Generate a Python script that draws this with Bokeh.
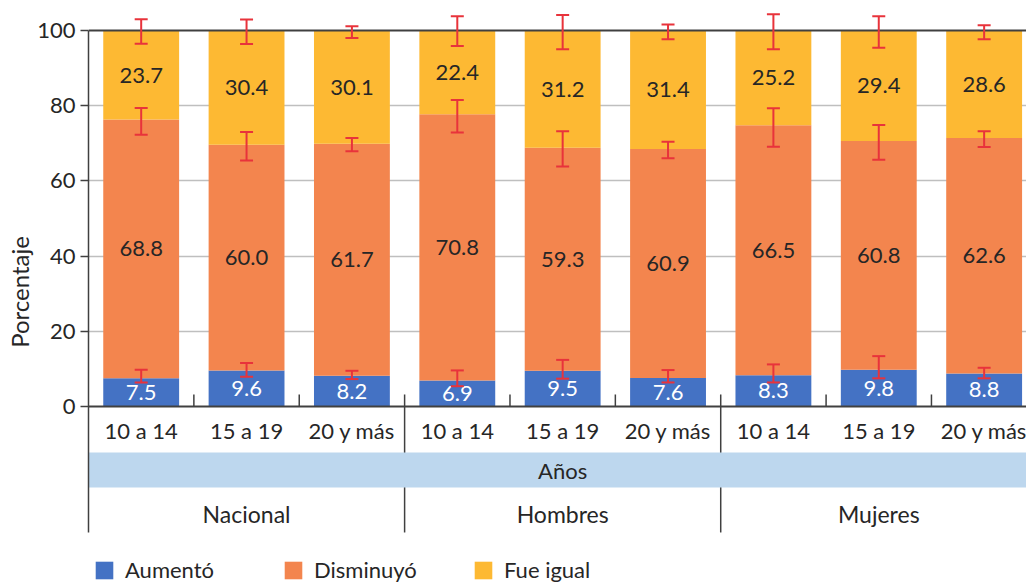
from bokeh.plotting import figure
from bokeh.models import (Range1d, FixedTicker, ColumnDataSource, Whisker, TeeHead,
                          Span, Legend, LegendItem)
from bokeh.core.properties import value
from bokeh.embed import file_html
from bokeh.resources import INLINE

# ---------------- data ----------------
ages = ["10 a 14", "15 a 19", "20 y más", "10 a 14", "15 a 19", "20 y más",
        "10 a 14", "15 a 19", "20 y más"]
groups = ["Nacional", "Hombres", "Mujeres"]
band_label = "Años"
series_names = ["Aumentó", "Disminuyó", "Fue igual"]

aumento = [7.5, 9.6, 8.2, 6.9, 9.5, 7.6, 8.3, 9.8, 8.8]
disminuyo = [68.8, 60.0, 61.7, 70.8, 59.3, 60.9, 66.5, 60.8, 62.6]
igual = [23.7, 30.4, 30.1, 22.4, 31.2, 31.4, 25.2, 29.4, 28.6]

# error bars (lower / upper, on the stacked scale)
aum_lo = [6.4, 7.9, 7.3, 5.4, 7.4, 6.4, 6.4, 7.5, 7.5]
aum_hi = [9.8, 11.6, 9.5, 9.6, 12.4, 9.7, 11.2, 13.4, 10.3]
dis_lo = [72.3, 65.4, 67.9, 72.9, 63.8, 66.0, 69.1, 65.6, 69.0]
dis_hi = [79.4, 73.0, 71.4, 81.5, 73.2, 70.4, 79.3, 74.9, 73.2]
ig_lo = [96.5, 96.4, 98.0, 95.9, 95.0, 97.7, 95.0, 95.4, 97.7]
ig_hi = [103.0, 102.9, 101.1, 103.8, 104.1, 101.6, 104.3, 103.8, 101.4]

# ---------------- style ----------------
FONT = "Lato"
TXT = "#262626"
AXC = "#404040"
COLORS = ["#4472C4", "#F3854E", "#FDB933"]
RED = "#E8333B"
BAND = "#BDD7EE"

n = len(ages)
gsize = n // len(groups)
xs = [i + 0.5 for i in range(n)]

p = figure(width=1026, height=583, output_backend="svg", toolbar_location=None,
           x_range=Range1d(0, 8.902), y_range=Range1d(-47.07, 107.98),
           x_axis_location=None, min_border_left=88, min_border_right=0,
           min_border_top=0, min_border_bottom=0)
p.outline_line_color = None
p.background_fill_color = "white"
p.border_fill_color = "white"
for g in p.xgrid:
    g.visible = False

# y axis
yax = p.yaxis[0]
yax.ticker = FixedTicker(ticks=[0, 20, 40, 60, 80, 100])
yax.bounds = (-33.5, 100)
yax.axis_line_color = AXC
yax.axis_line_width = 1.5
yax.major_tick_line_color = AXC
yax.major_tick_line_width = 1.5
yax.major_tick_out = 8
yax.major_tick_in = 0
yax.minor_tick_line_color = None
yax.major_label_text_font = FONT
yax.major_label_text_font_size = "22px"
yax.major_label_text_color = TXT
yax.major_label_standoff = 5
yax.axis_label = "Porcentaje"
yax.axis_label_text_font = FONT
yax.axis_label_text_font_size = "24px"
yax.axis_label_text_font_style = "normal"
yax.axis_label_text_color = TXT
yax.axis_label_standoff = 0

yg = p.ygrid[0]
yg.ticker = FixedTicker(ticks=[20, 40, 60, 80])
yg.grid_line_color = "#BFBFBF"
yg.grid_line_width = 1.5

# bars
src = ColumnDataSource(dict(x=xs, aum=aumento, dis=disminuyo, ig=igual))
rs = p.vbar_stack(["aum", "dis", "ig"], x="x", width=0.72, color=COLORS,
                  line_color=None, source=src)

# reference lines at 0 and 100
p.add_layout(Span(location=0, dimension="width", line_color=AXC, line_width=2))
p.add_layout(Span(location=100, dimension="width", line_color=AXC, line_width=2))

# small ticks between categories and group separators
inner = [i for i in range(1, n) if i % gsize != 0]
seps = [i for i in range(1, n) if i % gsize == 0]
p.segment(x0=inner, x1=inner, y0=[0] * len(inner), y1=[3.2] * len(inner),
          line_color=AXC, line_width=1.5)
p.segment(x0=seps, x1=seps, y0=[3.2] * len(seps), y1=[-33.5] * len(seps),
          line_color=AXC, line_width=1.5)

# band
p.quad(left=[0], right=[n], bottom=[-21.54], top=[-12.23], color=BAND, line_color=None)
p.text(x=[n / 2], y=[-17.0], text=[band_label], text_font=value(FONT),
       text_font_size="22px", text_color=TXT, text_align="center",
       text_baseline="middle")

# category labels
p.text(x=xs, y=[-6.3] * n, text=ages, text_font=value(FONT), text_font_size="22px",
       text_color=TXT, text_align="center", text_baseline="middle")
# group labels
p.text(x=[g * gsize + gsize / 2 for g in range(len(groups))], y=[-28.5] * len(groups),
       text=groups, text_font=value(FONT), text_font_size="23px", text_color=TXT,
       text_align="center", text_baseline="middle")

# error bars
esrc = ColumnDataSource(dict(x=xs * 3, lo=aum_lo + dis_lo + ig_lo,
                             hi=aum_hi + dis_hi + ig_hi))
wh = Whisker(base="x", lower="lo", upper="hi", source=esrc, dimension="height",
             line_color=RED, line_width=2, level="overlay",
             upper_head=TeeHead(size=13, line_color=RED, line_width=2),
             lower_head=TeeHead(size=13, line_color=RED, line_width=2))
p.add_layout(wh)

# data labels
mid_a = [a / 2 for a in aumento]
mid_d = [a + d / 2 for a, d in zip(aumento, disminuyo)]
mid_i = [a + d + i / 2 for a, d, i in zip(aumento, disminuyo, igual)]
p.text(x=xs, y=mid_a, text=[f"{v:.1f}" for v in aumento], text_font=value(FONT),
       text_font_size="22px", text_color="white", text_align="center",
       text_baseline="middle")
p.text(x=xs + xs, y=mid_d + mid_i,
       text=[f"{v:.1f}" for v in disminuyo] + [f"{v:.1f}" for v in igual],
       text_font=value(FONT), text_font_size="22px", text_color=TXT,
       text_align="center", text_baseline="middle")

# legends
for lab, r, lx in zip(series_names, rs, [5, 194, 384]):
    leg = Legend(items=[LegendItem(label=value(lab), renderers=[r])],
                 location=(lx, 0), orientation="horizontal", padding=0, margin=0,
                 spacing=0, glyph_width=22, glyph_height=22, label_standoff=10,
                 label_height=22, label_text_font=FONT, label_text_font_size="22px",
                 label_text_color=TXT, border_line_color=None,
                 background_fill_alpha=0)
    p.add_layout(leg)

open("out.html", "w").write(file_html(p, INLINE))
